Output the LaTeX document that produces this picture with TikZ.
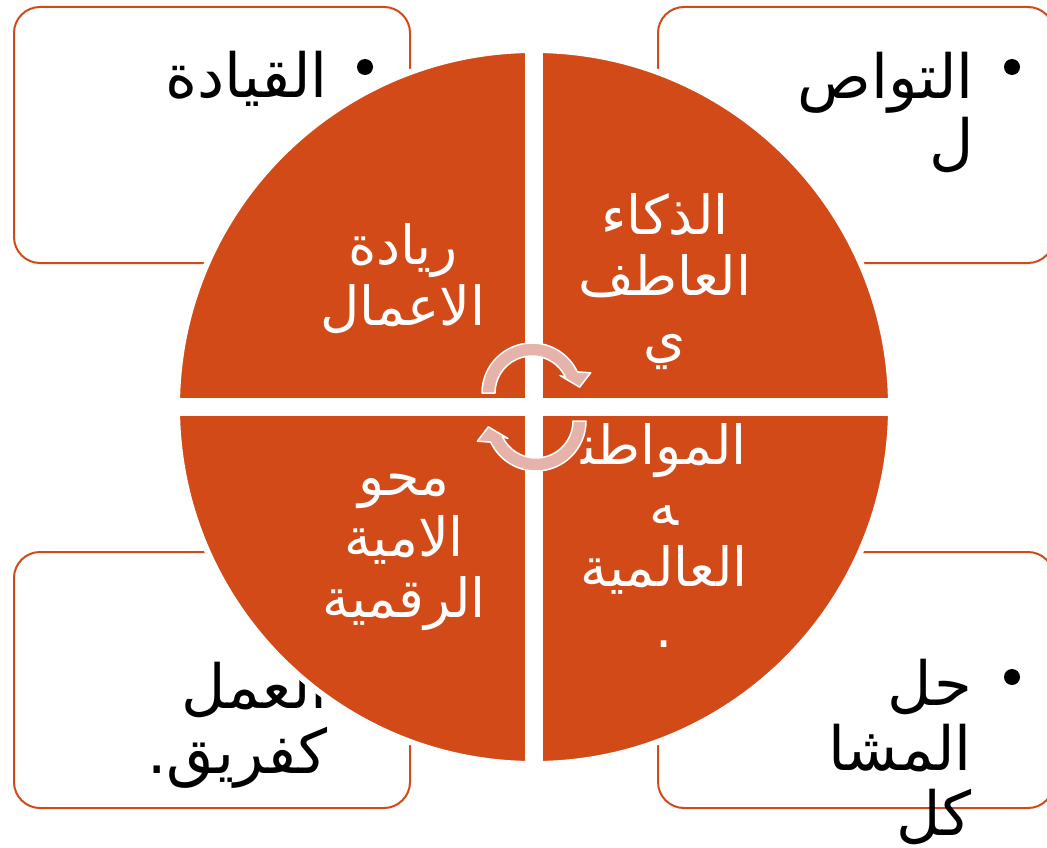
\documentclass[tikz,border=0pt]{standalone}
\usepackage{fontspec}
\usepackage{tikz}
\TeXXeTstate=1
\newfontfamily\arabicfont[Script=Arabic]{DejaVu Sans}
\definecolor{orangecm}{RGB}{210,74,24}
\definecolor{pinkarrow}{RGB}{230,179,171}
\newcommand{\artext}[1]{\beginR #1\endR}
\tikzset{
  boxcm/.style={draw=orangecm,line width=2pt,rounded corners=26pt,fill=white},
  boxtext/.style={font=\arabicfont\fontsize{61}{65}\selectfont,align=right,inner sep=0pt,anchor=base east},
  bulletdot/.style={circle,fill=black,inner sep=0pt,minimum size=16pt},
  quadtext/.style={text=white,font=\arabicfont\fontsize{54}{61}\selectfont,align=center,inner sep=0pt,anchor=base},
  cyclearrow/.style={fill=pinkarrow,draw=white,line width=1.5pt,line join=round}
}

\begin{document}
\begin{tikzpicture}[x=1pt,y=-1pt]
  \useasboundingbox (0,0) rectangle (1047,848);

  % the four boxes
  \draw[boxcm] (14,7) rectangle (410,263);
  \draw[boxcm] (658,7) rectangle (1054,263);
  \draw[boxcm] (14,552) rectangle (410,808);
  \draw[boxcm] (658,552) rectangle (1054,808);

  % texts sit on the baseline of their last line
  \node[bulletdot] (b1) at (365,67) {};
  \node[boxtext] (t1) at (328,98) {\artext{القيادة}};
  \node[bulletdot] (b2) at (1012,67) {};
  \node[boxtext] (t2) at (974,164) {\artext{التواص}\\\artext{ل}};
  \node[boxtext] (t3) at (328,773) {\artext{العمل}\\\artext{كفريق\kern0pt.}};
  \node[bulletdot] (b4) at (1012,677) {};
  \node[boxtext] (t4) at (972,835) {\artext{حل}\\\artext{المشا}\\\artext{كل}};

  % circle cut in four
  \filldraw[fill=orangecm,draw=white,line width=6pt] (534,407) circle[radius=357];
  \begin{scope}
    \clip (534,407) circle[radius=357];
    \fill[white] (525,40) rectangle (543,780);
    \fill[white] (170,398) rectangle (900,416);
  \end{scope}

  \node[quadtext] (q1) at (403,325) {\artext{ريادة}\\\artext{الاعمال}};
  \node[quadtext] (q2) at (665,356) {\artext{الذكاء}\\\artext{العاطف}\\\artext{ي}};
  \node[quadtext] (q3) at (664,647) {\artext{المواطن^^^^200d}\\\artext{^^^^200dه}\\\artext{العالمية}\\\artext{.}};
  \node[quadtext] (q4) at (404,617) {\artext{محو}\\\artext{الامية}\\\artext{الرقمية}};

  % cycle arrows
  \foreach \c/\r in {{(532,393)}/0,{(536,421)}/180}
    \filldraw[cyclearrow,shift={\c},rotate=\r] (180:50) arc[start angle=180,end angle=335,radius=50]
      -- (341:62) -- (353:48) -- (328:33) -- (335:37) arc[start angle=335,end angle=180,radius=37] -- cycle;
\end{tikzpicture}
\end{document}
